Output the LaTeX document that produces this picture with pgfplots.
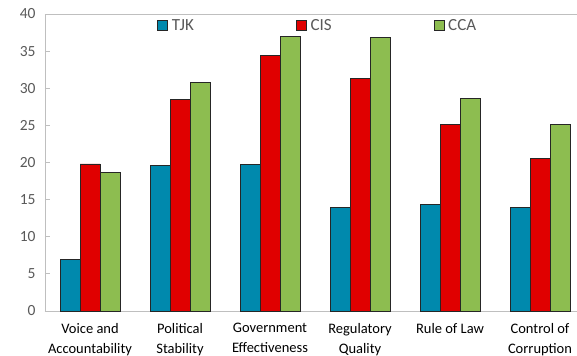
\documentclass[border=0pt]{standalone}
\usepackage{pgfplots}
\pgfplotsset{compat=1.18}
\usepackage{fontspec}
\setmainfont{Carlito}

\definecolor{tjk}{RGB}{0,137,173}
\definecolor{cis}{RGB}{224,0,0}
\definecolor{cca}{RGB}{141,189,80}
\definecolor{axisgray}{RGB}{191,191,191}
\definecolor{labelgray}{RGB}{89,89,89}

\begin{document}
\begin{tikzpicture}
\path[use as bounding box] (-45bp,-45bp) rectangle (532bp,311bp);
\begin{axis}[
  scale only axis,
  width=532bp, height=297bp,
  at={(0,0)}, anchor=south west,
  ybar=0pt,
  bar width=0.2222,
  xmin=-0.5, xmax=5.411,
  ymin=0, ymax=40,
  ytick={0,5,...,40},
  xtick={0,...,5},
  xticklabels={Voice and\\Accountability, Political\\Stability, Government\\Effectiveness, Regulatory\\Quality, Rule of Law, Control of\\Corruption},
  x tick label style={align=center, font=\fontsize{14.5bp}{19.5bp}\selectfont, text=black, yshift=-9bp},
  y tick label style={font=\fontsize{15.5bp}{18bp}\selectfont, text=labelgray, xshift=-6bp},
  /pgf/number format/assume math mode=true,
  axis lines=left,
  axis line style={-, axisgray, line width=0.8bp},
  x tick style={draw=none},
  y tick style={axisgray, line width=0.8bp},
  tick align=inside,
  major tick length=5bp,
  extra x ticks={0.5,1.5,2.5,3.5,4.5},
  extra x tick labels={},
  extra x tick style={major tick length=4bp, tick style={draw=axisgray, line width=0.8bp}},
  legend columns=3,
  legend style={draw=none, fill=none, at={(0.2105,0.99)}, anchor=north west,
    font=\fontsize{17bp}{20bp}\selectfont, text=labelgray, inner sep=0pt,
    /tikz/every even column/.append style={column sep=0bp}},
  legend image code/.code={\draw[#1, draw=black!85, line width=0.7bp] (0bp,-5bp) rectangle (10bp,5bp);},
  every axis plot/.append style={draw=black!85, line width=0.7bp},
  clip=false,
]
\draw[axisgray, line width=0.8bp] (rel axis cs:0,1) -- (rel axis cs:1,1);
\addplot[fill=tjk] coordinates {(0,6.9) (1,19.6) (2,19.7) (3,14.0) (4,14.4) (5,14.0)};
\addplot[fill=cis] coordinates {(0,19.8) (1,28.5) (2,34.4) (3,31.3) (4,25.1) (5,20.5)};
\addplot[fill=cca] coordinates {(0,18.7) (1,30.8) (2,37.0) (3,36.9) (4,28.6) (5,25.1)};
\legend{\hspace{2bp}\makebox[122bp][l]{TJK}, \hspace{2bp}\makebox[121bp][l]{CIS}, \hspace{2bp}\makebox[40bp][l]{CCA}}
\end{axis}
\end{tikzpicture}
\end{document}
